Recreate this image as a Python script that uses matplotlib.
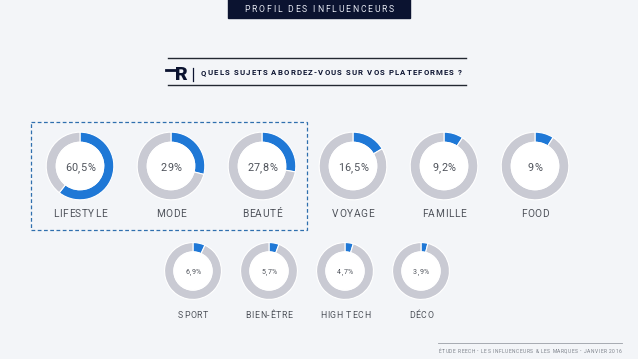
import matplotlib.pyplot as plt
from matplotlib.patches import Rectangle, Circle
from matplotlib.font_manager import FontProperties, findfont, get_font

# data
top_labels = ["LIFESTYLE", "MODE", "BEAUTÉ", "VOYAGE", "FAMILLE", "FOOD"]
top_values = [60.5, 29, 27.8, 16.5, 9.2, 9]
top_texts = ["60,5%", "29%", "27,8%", "16,5%", "9,2%", "9%"]

bottom_labels = ["SPORT", "BIEN-ÊTRE", "HIGH TECH", "DÉCO"]
bottom_values = [6.9, 5.7, 4.7, 3.9]
bottom_texts = ["6,9%", "5,7%", "4,7%", "3,9%"]

title = "PROFIL DES INFLUENCEURS"
question = "QUELS SUJETS ABORDEZ-VOUS SUR VOS PLATEFORMES ?"
footer = "ÉTUDE REECH - LES INFLUENCEURS & LES MARQUES - JANVIER 2016"

W, H = 638, 359
DPI = 100
BG = "#f3f5f8"
BLUE = "#1f78d6"
GREY = "#c9cad3"
NAVY = "#0b1330"
TXT = "#4f535b"

plt.rcParams['font.family'] = ['Roboto', 'DejaVu Sans']

fig = plt.figure(figsize=(W / DPI, H / DPI), dpi=DPI, facecolor=BG)


def donut(cx, cy, r, hole, value):
    dax = fig.add_axes([(cx - r) / W, 1 - (cy + r) / H, 2 * r / W, 2 * r / H])
    dax.pie([value, 100 - value], colors=[BLUE, GREY], startangle=90,
            counterclock=False, radius=1,
            wedgeprops=dict(width=1 - hole, edgecolor="white", linewidth=0.8))
    dax.add_patch(Circle((0, 0), hole, color="white", zorder=3))
    dax.set_xlim(-1.02, 1.02)
    dax.set_ylim(-1.02, 1.02)
    dax.axis('off')


top_x = [80 + 91 * i for i in range(len(top_values))]
bot_x = [193 + 76 * i for i in range(len(bottom_values))]
for cx, v in zip(top_x, top_values):
    donut(cx, 166, 34.5, 0.70, v)
for cx, v in zip(bot_x, bottom_values):
    donut(cx, 271, 29, 0.67, v)

# overlay axes in pixel units for all text and decorations
ax = fig.add_axes([0, 0, 1, 1])
ax.patch.set_visible(False)
ax.set_xlim(0, W)
ax.set_ylim(H, 0)
ax.axis('off')


def advances(s, fs, weight='normal'):
    font = get_font(findfont(FontProperties(family='Roboto', weight=weight)))
    font.set_size(fs, DPI)
    out = []
    for c in s:
        g = font.load_char(ord(c))
        out.append(g.linearHoriAdvance / 65536)
    return out


def track_for(s, target, fs, weight='normal'):
    return (target - sum(advances(s, fs, weight))) / (len(s) - 1)


def spaced(x, y, s, track, fs, ha='center', weight='normal', color=TXT):
    # letter-spaced text, y is the vertical centre of capitals (px)
    adv = advances(s, fs, weight)
    total = sum(adv) + track * (len(s) - 1)
    if ha == 'center':
        x0 = x - total / 2
    elif ha == 'right':
        x0 = x - total
    else:
        x0 = x
    base = y + 0.711 * fs * DPI / 72 / 2
    for c, w in zip(s, adv):
        if c != ' ':
            ax.text(x0, base, c, ha='left', va='baseline', fontsize=fs,
                    fontweight=weight, color=color)
        x0 += w + track


# banner
ax.add_patch(Rectangle((228, -1), 182, 18.5, color=NAVY))
spaced(319, 9, title, track_for(title, 150, 6.2), 6.2, color="#e6e9f2")

# question block
ax.plot([168, 466], [58, 58], color="#222831", lw=1)
ax.plot([168, 466], [84.5, 84.5], color="#222831", lw=1)
ax.text(181, 75, "R", color=NAVY, fontsize=14, fontweight='black', ha='center', va='center')
ax.plot([166, 175], [69.5, 69.5], color=NAVY, lw=2)
ax.plot([193, 193], [68, 81], color=NAVY, lw=0.9)
spaced(201, 72, question, track_for(question, 261, 5.6, 'bold'), 5.6, ha='left',
       weight='bold', color=NAVY)

# dashed highlight
ax.add_patch(Rectangle((31, 122), 276, 108, fill=False, ec="#2f6fae", lw=0.9, ls=(0, (3, 2))))

# footer
ax.plot([438, 622], [343, 343], color="#9a9ea6", lw=0.6)
spaced(530, 351, footer, track_for(footer, 183, 3.5), 3.5, color="#7a7f88")

t_pct1 = track_for("60,5%", 30, 7.8)
t_lab1 = track_for("LIFESTYLE", 54, 7.3)
for cx, t, lab in zip(top_x, top_texts, top_labels):
    spaced(cx, 167, t, t_pct1, 7.8)
    spaced(cx, 213, lab, t_lab1, 7.3)

t_pct2 = track_for("6,9%", 16, 5.0)
t_lab2 = track_for("BIEN-ÊTRE", 47, 6.3)
for cx, t, lab in zip(bot_x, bottom_texts, bottom_labels):
    spaced(cx, 272, t, t_pct2, 5.0)
    spaced(cx, 315, lab, t_lab2, 6.3)

fig.savefig("out.png", dpi=DPI, facecolor=BG)
